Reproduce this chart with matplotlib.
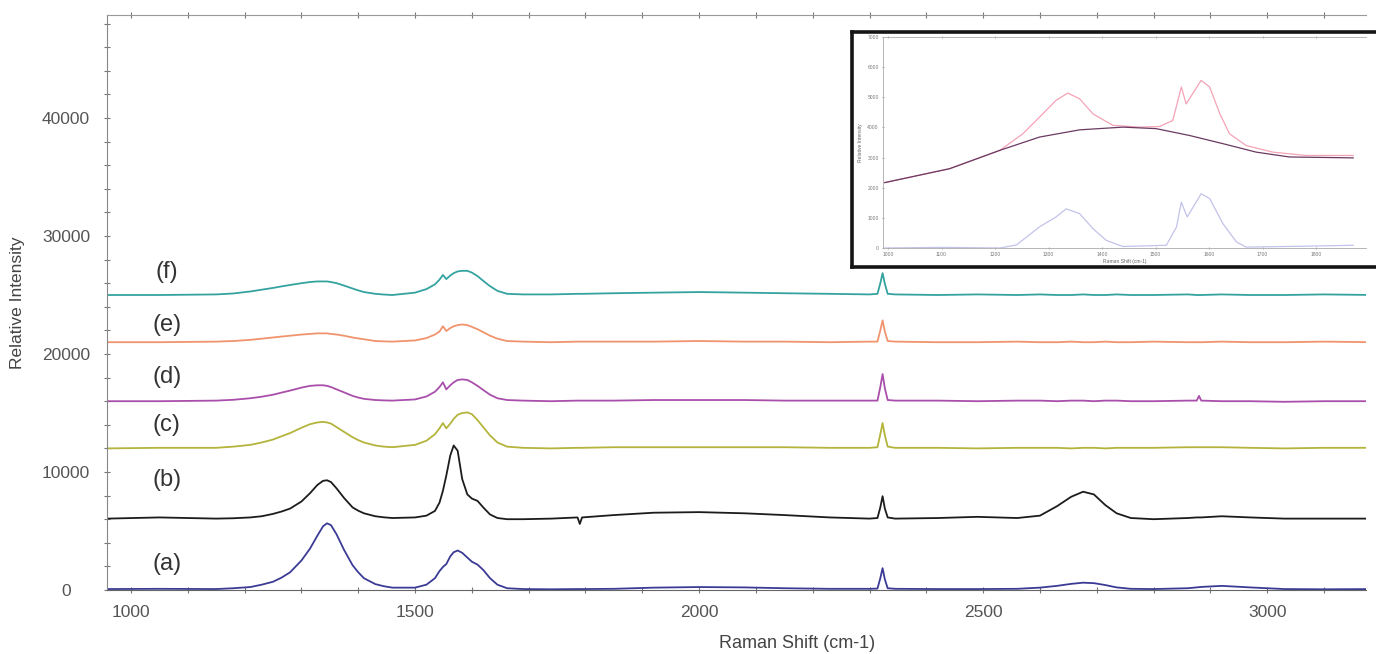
import matplotlib.pyplot as plt
from matplotlib.ticker import MultipleLocator

plt.rcParams['font.family'] = ['Liberation Sans', 'DejaVu Sans']

# raman shift grid (cm-1), shared by all six spectra
shift = [958, 1050, 1150, 1180, 1210, 1230, 1250, 1265, 1280, 1300, 1315, 1328, 1338,
         1345, 1352, 1362, 1375, 1390, 1400, 1410, 1430, 1445, 1460, 1500, 1520,
         1535, 1543, 1549, 1555, 1562, 1568, 1575, 1583, 1592, 1600,
         1610, 1620, 1632, 1645, 1662, 1690, 1740, 1786, 1790, 1794,
         1850, 1920, 2000, 2080, 2150, 2230, 2300, 2314, 2319, 2323,
         2327, 2332, 2345, 2420, 2490, 2560, 2600, 2630, 2655, 2676,
         2695, 2715, 2735, 2760, 2800, 2860, 2876, 2880, 2884, 2920,
         2970, 3030, 3100, 3190]

spec_a = [80, 100, 80, 150, 250, 450, 700, 1050, 1500, 2500, 3500, 4600, 5400,
          5650, 5500, 4700, 3400, 2100, 1500, 1000, 500, 320, 200, 200, 450,
          1000, 1600, 1950, 2200, 2850, 3200, 3350, 3150, 2750, 2400,
          2150, 1700, 1000, 450, 150, 80, 60, 80, 80, 80,
          100, 200, 250, 220, 150, 100, 100, 120, 1000, 1850,
          900, 150, 100, 80, 80, 100, 200, 350, 520, 620,
          580, 420, 220, 100, 80, 150, 220, 240, 260, 350,
          220, 80, 60, 80]

spec_b = [6050, 6150, 6050, 6080, 6150, 6250, 6450, 6650, 6900, 7500, 8200, 8900, 9250,
          9300, 9150, 8600, 7800, 7000, 6720, 6500, 6250, 6160, 6100, 6150, 6300,
          6700, 7400, 8400, 9700, 11400, 12250, 11800, 9400, 8100, 7750,
          7550, 7000, 6400, 6100, 6000, 6000, 6050, 6150, 5600, 6150,
          6350, 6550, 6600, 6500, 6350, 6150, 6050, 6100, 7000, 7950,
          6900, 6150, 6050, 6100, 6200, 6100, 6300, 7100, 7900, 8330,
          8100, 7200, 6500, 6100, 6000, 6100, 6150, 6150, 6150, 6250,
          6150, 6050, 6050, 6050]

spec_c = [12000, 12050, 12050, 12150, 12300, 12500, 12750, 13030, 13300, 13750, 14050, 14200, 14250,
          14200, 14100, 13800, 13400, 12950, 12700, 12500, 12250, 12150, 12100, 12300, 12650,
          13200, 13700, 14150, 13700, 14100, 14500, 14850, 15000, 15050, 14900,
          14400, 13800, 13100, 12500, 12150, 12050, 12000, 12050, 12050, 12050,
          12100, 12100, 12100, 12100, 12100, 12050, 12050, 12100, 13200, 14150,
          13100, 12150, 12050, 12050, 12000, 12050, 12050, 12050, 12000, 12050,
          12050, 12000, 12050, 12050, 12050, 12100, 12100, 12100, 12100, 12100,
          12050, 12000, 12050, 12050]

spec_d = [16000, 16000, 16050, 16120, 16250, 16380, 16550, 16730, 16900, 17150, 17300, 17350, 17350,
          17300, 17200, 17000, 16750, 16450, 16310, 16200, 16100, 16070, 16050, 16150, 16400,
          16800, 17200, 17600, 17000, 17350, 17600, 17800, 17850, 17800, 17600,
          17300, 16950, 16550, 16250, 16100, 16050, 16000, 16050, 16050, 16050,
          16050, 16100, 16100, 16100, 16050, 16050, 16050, 16050, 17200, 18300,
          17100, 16100, 16050, 16050, 16000, 16050, 16050, 16000, 16050, 16050,
          16000, 16050, 16050, 16000, 16000, 16050, 16050, 16450, 16050, 16000,
          16000, 15950, 16000, 16000]

spec_e = [21000, 21000, 21050, 21100, 21200, 21300, 21400, 21480, 21550, 21650, 21700, 21750, 21750,
          21750, 21700, 21650, 21550, 21400, 21320, 21250, 21100, 21070, 21050, 21150, 21350,
          21650, 21900, 22350, 21950, 22200, 22350, 22450, 22500, 22450, 22300,
          22100, 21850, 21550, 21300, 21100, 21050, 21000, 21050, 21050, 21050,
          21050, 21050, 21100, 21050, 21050, 21000, 21050, 21050, 22000, 22850,
          21900, 21100, 21050, 21000, 21000, 21050, 21000, 21000, 21050, 21000,
          21000, 21050, 21000, 21000, 21050, 21000, 21000, 21000, 21000, 21050,
          21000, 21000, 21050, 21000]

spec_f = [25000, 25000, 25050, 25130, 25300, 25450, 25600, 25730, 25850, 26000, 26100, 26150, 26150,
          26150, 26100, 26000, 25800, 25550, 25390, 25250, 25100, 25040, 25000, 25200, 25500,
          25900, 26300, 26700, 26350, 26650, 26850, 27000, 27050, 27050, 26900,
          26600, 26200, 25750, 25350, 25100, 25050, 25050, 25100, 25100, 25100,
          25150, 25200, 25250, 25200, 25150, 25100, 25050, 25100, 26000, 26850,
          25950, 25100, 25050, 25000, 25050, 25000, 25050, 25000, 25000, 25050,
          25000, 25000, 25050, 25000, 25000, 25050, 25000, 25000, 25000, 25050,
          25000, 25000, 25050, 25000]

labels = ['(a)', '(b)', '(c)', '(d)', '(e)', '(f)']
label_y = [2200, 9300, 14000, 18050, 22450, 26950]
colors = ['#3b3b96', '#1c1c1c', '#b4b43c', '#a94fab', '#f0946e', '#34a3a0']

# inset: raw spectrum, fitted background, corrected spectrum
raw_x = [994, 1115, 1209, 1252, 1283, 1314, 1336, 1358, 1383, 1420, 1470, 1507,
         1532, 1548, 1557, 1585, 1601, 1620, 1638, 1669, 1719, 1781, 1869]
raw_y = [2170, 2630, 3240, 3790, 4340, 4900, 5140, 4950, 4450, 4070, 4010, 4030,
         4230, 5340, 4780, 5560, 5340, 4450, 3790, 3400, 3180, 3070, 3070]
bg_x = [994, 1115, 1209, 1283, 1358, 1439, 1501, 1564, 1626, 1688, 1750, 1869]
bg_y = [2170, 2630, 3240, 3680, 3920, 4010, 3960, 3730, 3460, 3180, 3020, 2990]
corr_x = [994, 1100, 1209, 1240, 1283, 1314, 1333, 1358, 1383, 1408, 1439, 1520,
          1539, 1548, 1559, 1585, 1601, 1626, 1651, 1669, 1780, 1869]
corr_y = [0, 20, 0, 100, 700, 1030, 1300, 1140, 640, 250, 50, 90,
          700, 1520, 1030, 1800, 1640, 800, 200, 30, 60, 90]

W, H = 1376, 654
fig = plt.figure(figsize=(W / 100, H / 100), dpi=100)

# main axes, placed in pixels of the reference
ax = fig.add_axes([107 / W, 1 - 590 / H, 1259 / W, 575 / H])
for ys, col in zip([spec_a, spec_b, spec_c, spec_d, spec_e, spec_f], colors):
    ax.plot(shift, ys, color=col, lw=1.3, solid_joinstyle='round')
for lab, y in zip(labels, label_y):
    ax.text(1063, y, lab, fontsize=17, color='#333333', ha='center', va='center')

ax.set_xlim(957.7, 3174)
ax.set_ylim(0, 48730)
ax.xaxis.set_major_locator(MultipleLocator(500))
ax.xaxis.set_minor_locator(MultipleLocator(100))
ax.yaxis.set_major_locator(MultipleLocator(10000))
ax.yaxis.set_minor_locator(MultipleLocator(2000))
ax.tick_params(which='both', direction='inout', color='#777777', width=0.8,
               top=True, labelsize=12.5, labelcolor='#555555')
ax.tick_params(which='major', length=5)
ax.tick_params(which='minor', length=4)
ax.tick_params(axis='x', pad=8)
ax.tick_params(axis='y', pad=27)
for t in ax.get_yticklabels():
    t.set_ha('center')
ax.spines['right'].set_visible(False)
ax.spines['left'].set_color('#888888')
ax.spines['top'].set_color('#999999')
ax.spines['bottom'].set_color('#666666')

ax.set_xlabel('Raman Shift (cm-1)', fontsize=13, color='#444444', va='center')
ax.xaxis.set_label_coords((797 - 107) / 1259, (590 - 643) / 575)
ax.set_ylabel('Relative Intensity', fontsize=12.5, color='#444444', va='center')
ax.yaxis.set_label_coords((18 - 107) / 1259, 0.5)

# black frame round the inset
frame = fig.add_axes([852 / W, 1 - 267 / H, 0.40, 235 / H])
frame.set_xticks([])
frame.set_yticks([])
for s in frame.spines.values():
    s.set_linewidth(2.6)
    s.set_color('#151515')

# inset plot
ins = fig.add_axes([883 / W, 1 - 248 / H, 483 / W, 211 / H])
ins.patch.set_alpha(0)
ins.plot(raw_x, raw_y, color='#f3a3b6', lw=0.9, solid_joinstyle='round')
ins.plot(bg_x, bg_y, color='#6a3a62', lw=0.9, solid_joinstyle='round')
ins.plot(corr_x, corr_y, color='#c2c2ea', lw=0.9, solid_joinstyle='round')
ins.set_xlim(990.7, 1893)
ins.set_ylim(0, 7000)
ins.xaxis.set_major_locator(MultipleLocator(100))
ins.yaxis.set_major_locator(MultipleLocator(1000))
ins.tick_params(direction='inout', length=2, width=0.5, color='#888888',
                top=True, labelsize=3.6, labelcolor='#777777', pad=2)
ins.spines['right'].set_visible(False)
for s in ['left', 'top', 'bottom']:
    ins.spines[s].set_color('#aaaaaa')
    ins.spines[s].set_linewidth(0.6)
ins.set_xlabel('Raman Shift (cm-1)', fontsize=3.6, color='#666666', labelpad=1)
ins.set_ylabel('Relative Intensity', fontsize=3.6, color='#666666', labelpad=3)

plt.savefig('out.png', dpi=100)
